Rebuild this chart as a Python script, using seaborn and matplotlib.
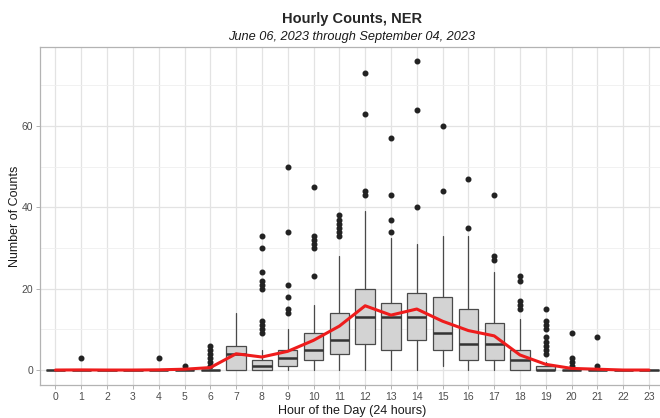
import numpy as np
import pandas as pd
import matplotlib
matplotlib.use("Agg")
import matplotlib.pyplot as plt
import seaborn as sns

# Data (counts per hour of the day)
hours = list(range(24))
q1 = [0, 0, 0, 0, 0, 0, 0, 0, 0, 1, 2.5, 4, 6.5, 5, 7.5, 5, 2.5, 2.5, 0, 0, 0, 0, 0, 0]
medians = [0, 0, 0, 0, 0, 0, 0, 4, 1, 3, 5, 7.5, 13, 13, 13, 9, 6.5, 6.5, 2.5, 0, 0, 0, 0, 0]
q3 = [0, 0, 0, 0, 0, 0, 0, 6, 2.5, 5, 9, 14, 20, 16.5, 19, 18, 15, 11.5, 5, 1, 0, 0, 0, 0]
whisker_lo = [0, 0, 0, 0, 0, 0, 0, 0, 0, 0, 0, 0, 0, 0, 0, 1, 0, 0, 0, 0, 0, 0, 0, 0]
whisker_hi = [0, 0, 0, 0, 0, 0, 0, 14, 5, 10, 16, 28, 39, 32.5, 31, 33, 33, 24, 12.5, 2, 0, 0, 0, 0]
outliers = [
    [], [3], [], [], [3], [1], [1, 2, 3, 4, 5, 6], [],
    [9, 10, 11, 12, 20, 21, 22, 24, 30, 33],
    [14, 15, 18, 21, 34, 50],
    [23, 30, 31, 32, 33, 45],
    [33, 34, 35, 36, 37, 38],
    [43, 44, 63, 73],
    [34, 37, 43, 57],
    [40, 64, 76],
    [44, 60],
    [35, 47],
    [27, 28, 43],
    [15, 16, 17, 22, 23],
    [4, 5, 6, 7, 8, 10, 11, 12, 15],
    [1, 2, 3, 9],
    [1, 8],
    [], [],
]
mean_counts = [0, 0.03, 0, 0, 0.05, 0.2, 0.6, 4.0, 3.2, 4.6, 7.3, 10.8, 15.8, 13.5,
               15.0, 12.0, 9.7, 8.4, 3.7, 1.4, 0.4, 0.2, 0, 0]

sns.set_theme(style="whitegrid")
plt.rcParams['font.family'] = ['Liberation Sans', 'DejaVu Sans']

fig = plt.figure(figsize=(6.6, 4.18), dpi=100)
ax = fig.add_axes([40 / 660, 1 - 385.4 / 418, 624.5 / 660, (385.4 - 47.1) / 418])

stats = []
for h in hours:
    stats.append(dict(q1=q1[h], med=medians[h], q3=q3[h],
                      whislo=whisker_lo[h], whishi=whisker_hi[h], fliers=outliers[h]))

ax.bxp(stats, positions=hours, widths=0.75, patch_artist=True, showcaps=False,
       boxprops=dict(facecolor="#d3d3d3", edgecolor="#4a4a4a", linewidth=0.9),
       medianprops=dict(color="#333333", linewidth=1.8),
       whiskerprops=dict(color="#4a4a4a", linewidth=0.9),
       flierprops=dict(marker="o", markerfacecolor="#222222", markeredgecolor="#222222",
                       markersize=3.3))

df_mean = pd.DataFrame({"hour": hours, "mean": mean_counts})
sns.lineplot(data=df_mean, x="hour", y="mean", color="#ee1c1c", linewidth=2.2, ax=ax, zorder=5)

ax.set_xlim(-0.6, 23.6)
ax.set_ylim(-3.78, 79.4)
ax.set_xticks(hours)
ax.set_xticklabels([str(h) for h in hours])
ax.set_yticks([0, 20, 40, 60])
ax.set_yticks([10, 30, 50, 70], minor=True)

ax.grid(True, which="major", color="#e3e3e3", linewidth=0.9)
ax.grid(True, which="minor", axis="y", color="#efefef", linewidth=0.6)
ax.set_axisbelow(True)
for s in ax.spines.values():
    s.set_color("#b3b3b3")
    s.set_linewidth(0.9)

ax.tick_params(axis="both", which="major", length=3, width=0.7, color="#b3b3b3",
               labelsize=7.5, labelcolor="#4d4d4d", pad=2, bottom=True, left=True)
ax.tick_params(axis="both", which="minor", length=0)

ax.set_xlabel("Hour of the Day (24 hours)", fontsize=9, color="#1a1a1a", labelpad=2)
ax.set_ylabel("Number of Counts", fontsize=9, color="#1a1a1a", labelpad=0)

fig.text(352 / 660, 1 - 19 / 418, "Hourly Counts, NER", ha="center", va="center",
         fontsize=10.5, fontweight="bold")
fig.text(352 / 660, 1 - 37 / 418, "June 06, 2023 through September 04, 2023", ha="center",
         va="center", fontsize=9.2, style="italic", color="#1a1a1a")

fig.savefig("out.png", dpi=100)
